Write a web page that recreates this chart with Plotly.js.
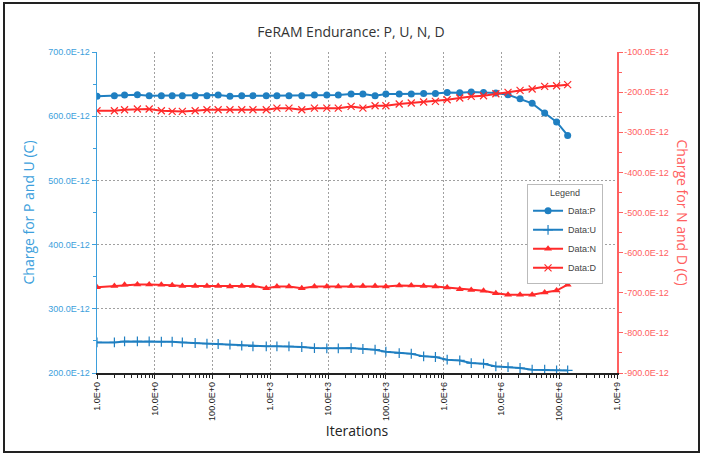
<!DOCTYPE html>
<html>
<head>
<meta charset="utf-8">
<script src="https://cdn.plot.ly/plotly-3.0.1.min.js"></script>
<style>
  html, body { margin: 0; padding: 0; background: #fff; }
  #wrap { position: relative; width: 702px; height: 456px; }
  #chart { width: 702px; height: 456px; }
  #frame { position: absolute; left: 3px; top: 2px; width: 693px; height: 447px; border: 2px solid #222; pointer-events: none; }
</style>
</head>
<body>
<div id="wrap">
  <div id="chart"></div>
  <div id="frame"></div>
</div>
<script>
// Iteration counts
const iterations = [1, 2, 3, 5, 8, 13, 20, 30, 50, 80,
  125, 200, 320, 500, 850, 1300, 2100, 3500, 5800, 9500,
  15000, 25000, 40000, 65000, 100000, 170000, 275000, 450000, 720000, 1150000,
  1900000, 3000000, 4900000, 8000000, 13000000, 21000000, 34000000, 56000000, 90000000, 140000000];

// Charges in pC (converted to C below)
const dataP = [631, 632, 633, 633.5, 632, 632, 632, 632, 632, 632,
  633, 631, 632, 632, 632, 632, 632, 632, 633, 633,
  633, 634.6, 634.6, 632, 634.6, 634.6, 634.6, 635.5, 635.5, 637,
  636.6, 637.7, 637, 636, 633.5, 627, 620, 605, 591, 570];

const dataU = [247.7, 247.7, 249.2, 249.2, 249.2, 248.7, 248.7, 247.7, 246.7, 245.6,
  245.2, 244.1, 242.5, 241.5, 241.5, 241.5, 241.5, 240.5, 238.9, 238.4,
  238.4, 238.9, 237.4, 236.3, 233.2, 231.1, 230, 225.9, 224.9, 220.7,
  219.6, 215.5, 214.5, 210.3, 209.3, 207.8, 205.1, 205.1, 204, 204];

const dataN = [-686, -683, -680, -679.5, -679.5, -680, -681, -683, -683, -683,
  -683, -684.5, -683, -683, -688.5, -684.5, -684.5, -688.5, -684.5, -684.5,
  -684.5, -683, -683, -683, -684.5, -682, -682, -683, -684.5, -687,
  -691, -693, -695, -701, -705, -705, -705, -699.5, -694.5, -680];

const dataD = [-246.4, -246.4, -244, -242, -242, -246.4, -248, -248, -246.4, -244,
  -244, -244, -244, -244, -244, -240, -240, -244, -240, -240,
  -240, -235.6, -239.7, -234, -234, -229.7, -227.2, -224.7, -223.2, -219,
  -214.7, -210.7, -209, -204, -200.7, -195.8, -192.3, -185.8, -184, -181.5];

const xTickVals = [1, 10, 100, 1e3, 1e4, 1e5, 1e6, 1e7, 1e8, 1e9];
const xTickText = ["1.0E+0", "10.0E+0", "100.0E+0", "1.0E+3", "10.0E+3", "100.0E+3", "1.0E+6", "10.0E+6", "100.0E+6", "1.0E+9"];

const leftTickPC = [200, 300, 400, 500, 600, 700];
const leftTickText = ["200.0E-12", "300.0E-12", "400.0E-12", "500.0E-12", "600.0E-12", "700.0E-12"];
const rightTickPC = [-900, -800, -700, -600, -500, -400, -300, -200, -100];
const rightTickText = ["-900.0E-12", "-800.0E-12", "-700.0E-12", "-600.0E-12", "-500.0E-12", "-400.0E-12", "-300.0E-12", "-200.0E-12", "-100.0E-12"];

const pC = v => v * 1e-12;

const BLUE = "#1f7fc1";
const BLUE_AX = "#3d9fdc";
const RED = "#ff2a2a";
const RED_AX = "#ff6060";
const GRID = "#a0a0a0";

const traces = [
  { name: "Data:P", x: iterations, y: dataP.map(pC), yaxis: "y", type: "scatter", mode: "lines+markers",
    line: { color: BLUE, width: 2 }, marker: { symbol: "circle", size: 7, color: BLUE } },
  { name: "Data:U", x: iterations, y: dataU.map(pC), yaxis: "y", type: "scatter", mode: "lines+markers",
    line: { color: BLUE, width: 2 }, marker: { symbol: "cross-thin", size: 7, color: BLUE, line: { color: BLUE, width: 1.2 } } },
  { name: "Data:N", x: iterations, y: dataN.map(pC), yaxis: "y2", type: "scatter", mode: "lines+markers",
    line: { color: RED, width: 2 }, marker: { symbol: "triangle-up", size: 7, color: RED } },
  { name: "Data:D", x: iterations, y: dataD.map(pC), yaxis: "y2", type: "scatter", mode: "lines+markers",
    line: { color: RED, width: 2 }, marker: { symbol: "x-thin", size: 7, color: RED, line: { color: RED, width: 1.2 } } }
];

const layout = {
  width: 702, height: 456,
  margin: { l: 97, r: 85, t: 52, b: 83, pad: 0 },
  paper_bgcolor: "#fff", plot_bgcolor: "#fff",
  font: { family: "Liberation Sans, Arial, sans-serif", size: 9, color: "#333" },
  title: { text: "FeRAM Endurance: P, U, N, D", x: 0.5, xanchor: "center", y: 0.93, yanchor: "middle",
    font: { family: "Open Sans, sans-serif", size: 14, color: "#333" } },
  showlegend: true,
  legend: {
    x: 0.827, y: 0.59, xanchor: "left", yanchor: "top",
    bgcolor: "#fff", bordercolor: "#bbb", borderwidth: 1,
    font: { family: "Liberation Sans, Arial, sans-serif", size: 9, color: "#444" },
    title: { text: "Legend", side: "top center", font: { size: 9, color: "#444" } },
    tracegroupgap: 0, itemwidth: 30
  },
  xaxis: {
    type: "log", range: [0, 9],
    tickmode: "array", tickvals: xTickVals, ticktext: xTickText, tickangle: -90,
    tickfont: { size: 9, color: "#222" },
    showline: true, linecolor: "#222", linewidth: 1.5,
    ticks: "outside", ticklen: 4, tickcolor: "#222",
    minor: { dtick: "D1", ticks: "outside", ticklen: 3, tickcolor: "#222", showgrid: false },
    showgrid: true, gridcolor: GRID, griddash: "2px,2px", gridwidth: 1,
    zeroline: false, mirror: false,
    title: { text: "Iterations", font: { family: "Open Sans, sans-serif", size: 14, color: "#222" }, standoff: 4 }
  },
  yaxis: {
    range: [pC(200), pC(700)],
    tickmode: "array", tickvals: leftTickPC.map(pC), ticktext: leftTickText,
    tickfont: { size: 9, color: BLUE_AX },
    showline: true, linecolor: BLUE_AX, linewidth: 1.5,
    ticks: "outside", ticklen: 4, tickcolor: BLUE_AX,
    minor: { dtick: pC(50), tick0: 0, ticks: "outside", ticklen: 3, tickcolor: BLUE_AX, showgrid: false },
    showgrid: true, gridcolor: GRID, griddash: "2px,2px", gridwidth: 1,
    zeroline: false,
    title: { text: "Charge for P and U (C)", font: { family: "Open Sans, sans-serif", size: 14, color: BLUE_AX }, standoff: 10 }
  },
  yaxis2: {
    overlaying: "y", side: "right", anchor: "x",
    range: [pC(-900), pC(-100)],
    tickmode: "array", tickvals: rightTickPC.map(pC), ticktext: rightTickText,
    tickfont: { size: 9, color: RED_AX },
    showline: true, linecolor: RED_AX, linewidth: 1.5,
    ticks: "outside", ticklen: 4, tickcolor: RED_AX,
    minor: { dtick: pC(50), tick0: 0, ticks: "outside", ticklen: 3, tickcolor: RED_AX, showgrid: false },
    showgrid: false, zeroline: false
  },
  annotations: [
    { text: "Charge for N and D (C)", xref: "paper", yref: "paper", x: 1.125, y: 0.5,
      xanchor: "center", yanchor: "middle", textangle: 90, showarrow: false,
      font: { family: "Open Sans, sans-serif", size: 14, color: RED_AX } }
  ]
};

Plotly.newPlot("chart", traces, layout, { displayModeBar: false, staticPlot: true });
</script>
</body>
</html>
